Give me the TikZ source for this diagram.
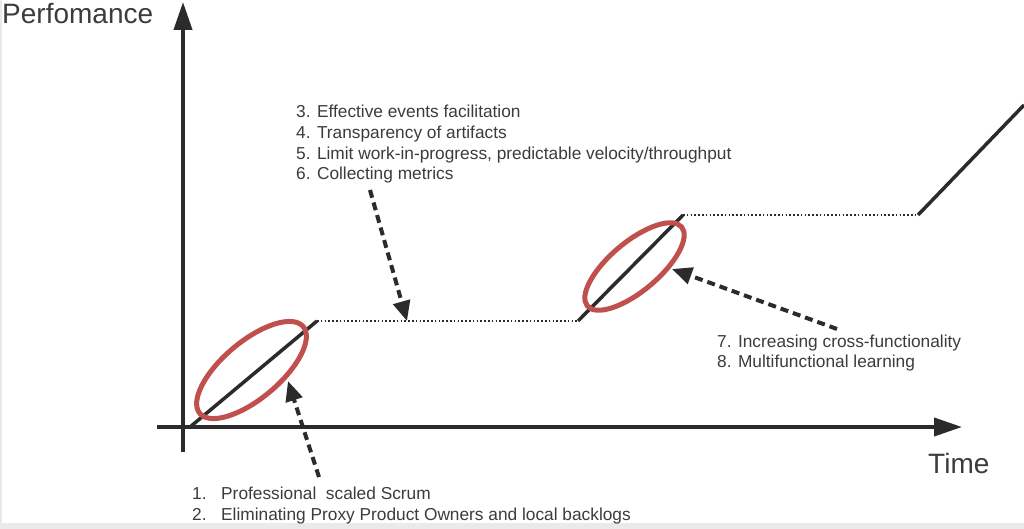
\documentclass[tikz,border=0pt]{standalone}
\usepackage{fontspec}
\setmainfont{Liberation Sans}
\usetikzlibrary{arrows.meta,shapes.geometric}
\definecolor{ink}{HTML}{2B2B2B}
\definecolor{txt}{HTML}{3C3C3C}
\definecolor{ringred}{HTML}{C0504D}
\definecolor{band}{HTML}{EAEAEA}
\begin{document}
\begin{tikzpicture}[x=1pt,y=-1pt,
  axis/.style={draw=ink,line width=4pt,-{Triangle[length=28pt,width=18pt]}},
  ramp/.style={draw=ink,line width=3.5pt},
  plateau/.style={draw=ink,line width=2pt,dash pattern=on 1.6pt off 2.2pt},
  ring/.style={draw=ringred,line width=5pt,ellipse,inner sep=0pt,rotate=40},
  callout/.style={draw=ink,line width=4pt,dash pattern=on 8pt off 5pt,-{Triangle[length=20pt,width=17pt]}},
  lbl/.style={text=txt,font=\fontsize{17.3}{21}\selectfont,inner sep=0pt,anchor=base west},
  big/.style={text=txt,font=\fontsize{28}{32}\selectfont,inner sep=0pt,anchor=base west}]
\useasboundingbox (0,0) rectangle (1024,529);
\fill[white] (0,0) rectangle (1024,529);
\fill[band] (0,523) rectangle (1024,529);
\fill[band] (0,0) rectangle (2,529);

% axes
\coordinate (ybot) at (183,452);
\coordinate (ytop) at (183,2);
\coordinate (xleft) at (157,427);
\coordinate (xright) at (962,427);
\draw[axis] (ybot) -- (ytop);
\draw[axis] (xleft) -- (xright);
\node[big] (perf) at (2,24) {Perfomance};
\node[big] (time) at (928,473) {Time};

% performance curve
\coordinate (p0) at (190,427);
\coordinate (p1) at (317,321);
\coordinate (p2) at (578,321);
\coordinate (p3) at (683,215);
\coordinate (p4) at (918,215);
\coordinate (p5) at (1024,105);
\draw[ramp] (p0) -- (p1);
\draw[plateau] (p1) -- (p2);
\draw[ramp] (p2) -- (p3);
\draw[plateau] (p3) -- (p4);
\draw[ramp] (p4) -- (p5);

% rings
\node[ring,minimum width=135pt,minimum height=57pt] (r1) at (251.5,370) {};
\node[ring,minimum width=123pt,minimum height=49pt] (r2) at (634.5,266.5) {};

% label block 3-6
\node[lbl] (t3) at (296,118) {3. Effective events facilitation};
\node[lbl] (t4) at (296,139) {4. Transparency of artifacts};
\node[lbl] (t5) at (296,160) {5. Limit work-in-progress, predictable velocity/throughput};
\node[lbl] (t6) at (296,180) {6. Collecting metrics};

% label block 1-2
\node[lbl] (n1) at (192,499) {1.};
\node[lbl] (t1) at (221,499) {Professional\ \ scaled Scrum};
\node[lbl] (n2) at (192,520) {2.};
\node[lbl] (t2) at (221,520) {Eliminating Proxy Product Owners and local backlogs};

% label block 7-8
\node[lbl] (t7) at (717,347) {7. Increasing cross-functionality};
\node[lbl] (t8) at (717,367) {8. Multifunctional learning};

% callouts
\coordinate (a1s) at (319,477);
\coordinate (a1e) at (288,381);
\coordinate (a2s) at (370,190);
\coordinate (a2e) at (407,321);
\coordinate (a3s) at (837,329);
\coordinate (a3e) at (672,269);
\draw[callout] (a1s) -- (a1e);
\draw[callout] (a2s) -- (a2e);
\draw[callout] (a3s) -- (a3e);
\end{tikzpicture}
\end{document}
